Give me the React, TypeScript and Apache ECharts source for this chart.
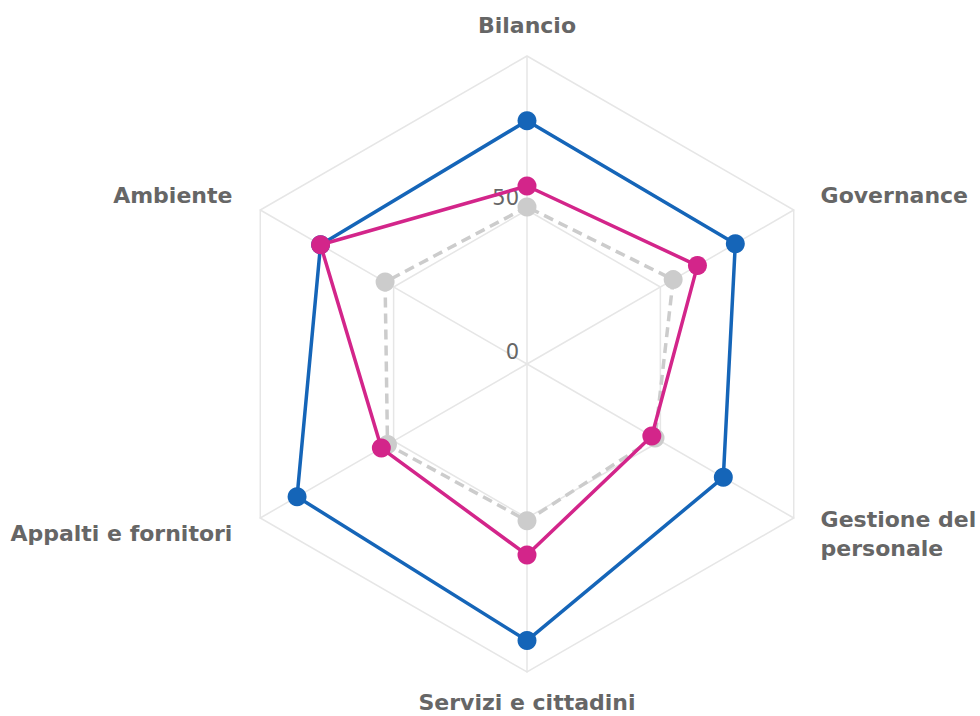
import React, { useEffect, useRef } from 'react';
import * as echarts from 'echarts';

// ECharts radar order (counter-clockwise from the top)
const indicators = [
  'Bilancio',
  'Ambiente',
  'Appalti e fornitori',
  'Servizi e cittadini',
  'Gestione del personale',
  'Governance',
];
const blueValues = [79, 77.4, 86.2, 89.8, 73.6, 78.1];
const pinkValues = [57.8, 77.4, 54.6, 62, 46.8, 63.9];
const grayValues = [51, 53.2, 52.3, 50.9, 48, 54.8];
const axisMin = 0;
const axisMax = 100;

const BLUE = '#1565B8';
const PINK = '#D3258A';
const GRAY = '#CCCCCC';
const TEXT = '#666666';
const FONT = 'DejaVu Sans';

const nameBase = { fontFamily: FONT, fontSize: 22, fontWeight: 'bold' as const, color: TEXT, lineHeight: 29 };

export default function App() {
  const ref = useRef<HTMLDivElement>(null);
  useEffect(() => {
    if (!ref.current) return;
    const chart = echarts.init(ref.current, undefined, { renderer: 'svg' });
    const option: any = {
      animation: false,
      backgroundColor: '#ffffff',
      radar: {
        center: [527, 364],
        radius: 308,
        startAngle: 90,
        splitNumber: 2,
        shape: 'polygon',
        nameGap: 16,
        axisName: {
          ...nameBase,
          formatter: (name: string) => {
            if (name === 'Governance') return `{ru|${name}}`;
            if (name === 'Ambiente') return `{lu|${name}}`;
            if (name === 'Appalti e fornitori') return `{ld|${name}}`;
            if (name === 'Gestione del personale') return `{rd|Gestione del}\n{r|personale}`;
            return `{c|${name}}`;
          },
          rich: {
            c: { ...nameBase },
            ru: { ...nameBase, padding: [0, 13, 14, 13] },
            lu: { ...nameBase, padding: [0, 14, 14, 14] },
            ld: { ...nameBase, padding: [15, 14, 0, 14] },
            rd: { ...nameBase, padding: [16, 13, 0, 13] },
            r: { ...nameBase, padding: [16, 13, 0, 13] },
          },
        },
        splitArea: { show: false },
        splitLine: { lineStyle: { color: '#E6E6E6', width: 1.5 } },
        axisLine: { lineStyle: { color: '#E6E6E6', width: 1.5 } },
        axisTick: { show: false },
        axisLabel: { show: false },
        indicator: indicators.map((n, i) => {
          const ind: any = { name: n, min: axisMin, max: axisMax };
          if (i === 0) {
            ind.axisLabel = {
              show: true,
              color: TEXT,
              fontFamily: FONT,
              fontSize: 21,
              margin: 8,
              verticalAlign: 'bottom',
              lineHeight: 24,
              formatter: (v: number) => (v === axisMax ? '' : String(v)),
            };
          }
          return ind;
        }),
      },
      series: [
        {
          type: 'radar',
          name: 'Riferimento',
          symbol: 'circle',
          symbolSize: 19,
          lineStyle: { color: GRAY, width: 3.5, type: [10, 6] },
          itemStyle: { color: GRAY, borderWidth: 0 },
          data: [{ value: grayValues, name: 'Riferimento' }],
          z: 2,
        },
        {
          type: 'radar',
          name: 'Blu',
          symbol: 'circle',
          symbolSize: 19,
          lineStyle: { color: BLUE, width: 3.5 },
          itemStyle: { color: BLUE, borderWidth: 0 },
          data: [{ value: blueValues, name: 'Blu' }],
          z: 3,
        },
        {
          type: 'radar',
          name: 'Rosa',
          symbol: 'circle',
          symbolSize: 19,
          lineStyle: { color: PINK, width: 3.5 },
          itemStyle: { color: PINK, borderWidth: 0 },
          data: [{ value: pinkValues, name: 'Rosa' }],
          z: 4,
        },
      ],
    };
    chart.setOption(option);
    return () => chart.dispose();
  }, []);
  return (
    <div
      ref={ref}
      style={{ position: 'absolute', left: 0, top: 0, width: 980, height: 716 }}
    />
  );
}
